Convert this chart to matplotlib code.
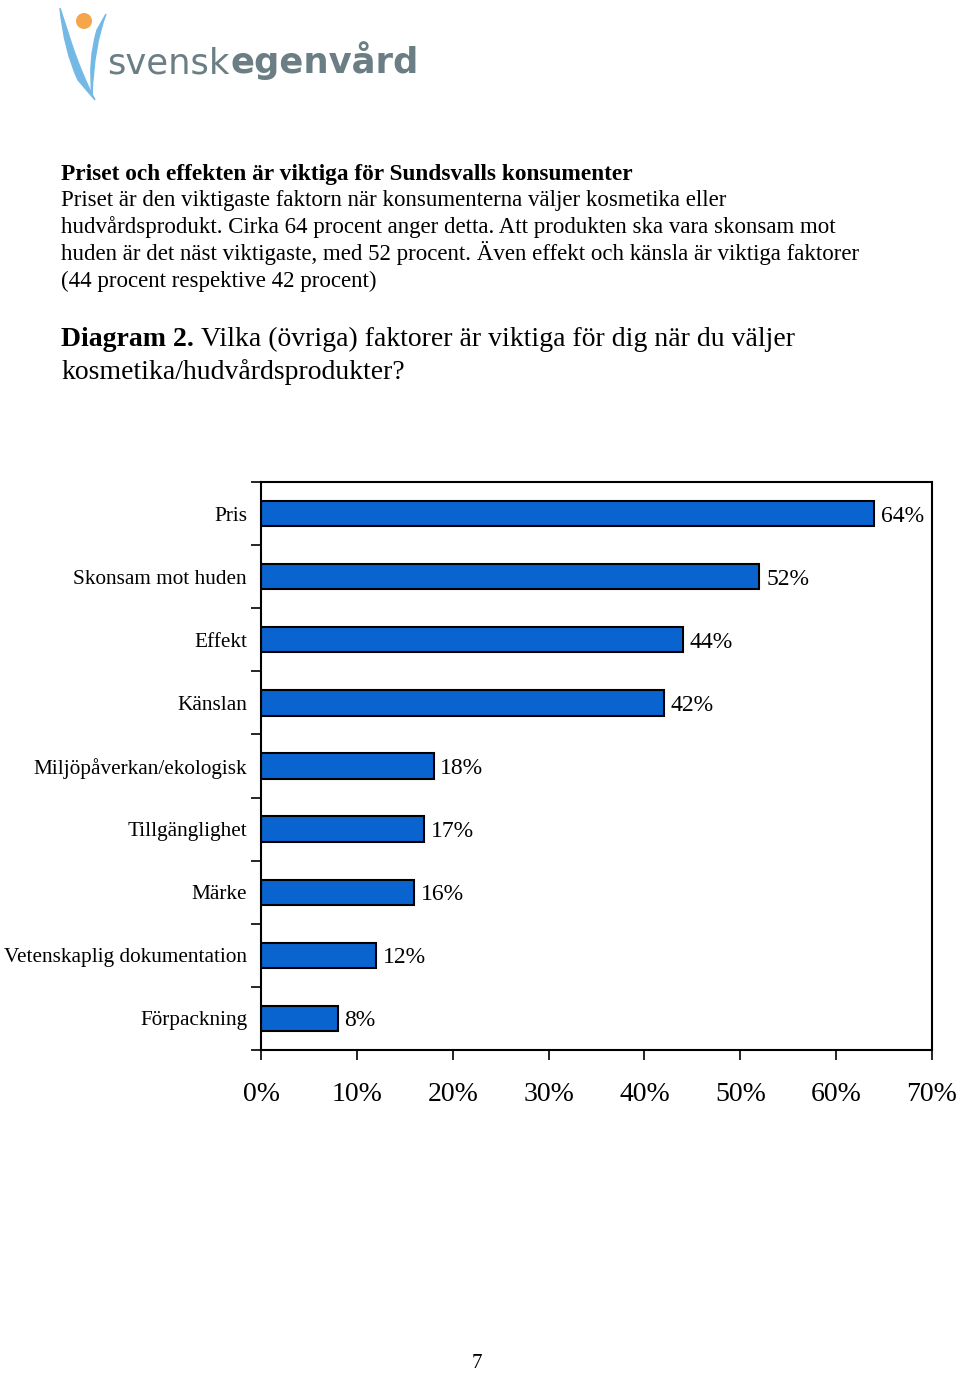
import numpy as np
import matplotlib.pyplot as plt
from matplotlib.patches import Circle, PathPatch
from matplotlib.path import Path

categories = ["Pris", "Skonsam mot huden", "Effekt", "Känslan",
              "Miljöpåverkan/ekologisk", "Tillgänglighet", "Märke",
              "Vetenskaplig dokumentation", "Förpackning"]
values = [64, 52, 44, 42, 18, 17, 16, 12, 8]
xticks = [0, 10, 20, 30, 40, 50, 60, 70]

heading = "Priset och effekten är viktiga för Sundsvalls konsumenter"
body = ["Priset är den viktigaste faktorn när konsumenterna väljer kosmetika eller",
        "hudvårdsprodukt. Cirka 64 procent anger detta. Att produkten ska vara skonsam mot",
        "huden är det näst viktigaste, med 52 procent. Även effekt och känsla är viktiga faktorer",
        "(44 procent respektive 42 procent)"]

W, H = 960, 1373
fig = plt.figure(figsize=(W / 100, H / 100), dpi=100)
serif = "Liberation Serif"

# logo
lax = fig.add_axes([0, 0, 1, 1])
lax.set_xlim(0, W)
lax.set_ylim(H, 0)
lax.axis("off")
blue = "#74b9e6"
left_arc = Path([(60, 8), (64, 50), (78, 80), (95, 100), (82, 75), (72, 45), (60, 8)],
                [Path.MOVETO, Path.CURVE3, Path.CURVE3, Path.LINETO, Path.CURVE3, Path.CURVE3, Path.CLOSEPOLY])
right_arc = Path([(106, 14), (94, 45), (92, 95), (88, 60), (97, 30), (106, 14)],
                 [Path.MOVETO, Path.CURVE3, Path.CURVE3, Path.CURVE3, Path.CURVE3, Path.CLOSEPOLY])
lax.add_patch(PathPatch(left_arc, fc=blue, ec=blue, lw=1))
lax.add_patch(PathPatch(right_arc, fc=blue, ec=blue, lw=1))
lax.add_patch(Circle((84, 21), 8, fc="#f5a54a", ec="none"))
logo_col = "#6a7e84"
t = lax.text(107, 73, "svensk", fontsize=25.5, color=logo_col, family="DejaVu Sans",
             va="baseline", ha="left")
fig.canvas.draw()
bb = t.get_window_extent()
lax.text(bb.x1 + 1, 73, "egenvård", fontsize=25.5, color=logo_col, family="DejaVu Sans",
         fontweight="bold", va="baseline", ha="left")

# text block
fig.text(61 / W, 1 - 180 / H, heading, fontsize=16.8, fontweight="bold", family=serif, va="baseline")
for i, line in enumerate(body):
    fig.text(61 / W, 1 - (206 + 27 * i) / H, line, fontsize=16.5, family=serif, va="baseline")
d = fig.text(61 / W, 1 - 346 / H, "Diagram 2.", fontsize=20, fontweight="bold", family=serif, va="baseline")
fig.canvas.draw()
dx = d.get_window_extent().x1
fig.text((dx + 7) / W, 1 - 346 / H, "Vilka (övriga) faktorer är viktiga för dig när du väljer",
         fontsize=20, family=serif, va="baseline")
fig.text(61 / W, 1 - 379 / H, "kosmetika/hudvårdsprodukter?", fontsize=20, family=serif, va="baseline")
fig.text(477 / W, 1 - 1363 / H, "7", fontsize=15, family=serif, ha="center", va="center")

# chart
ax = fig.add_axes([261 / W, 1 - 1050 / H, (932 - 261) / W, (1050 - 482) / H])
y = np.arange(len(categories))
ax.barh(y, values, height=0.4, color="#0a64cf", edgecolor="black", linewidth=1.5)
for yi, v in zip(y, values):
    ax.text(v + 0.7, yi + 0.04, f"{v}%", va="center", ha="left", fontsize=17, family=serif)
ax.set_xlim(0, 70)
ax.set_ylim(len(categories) - 0.5, -0.5)
ax.set_xticks(xticks)
ax.set_xticklabels([f"{x}%" for x in xticks], fontsize=20, family=serif)
ax.set_yticks(y)
ax.set_yticklabels(categories, fontsize=15.3, family=serif)
ax.set_yticks(np.arange(len(categories) + 1) - 0.5, minor=True)
ax.tick_params(axis="y", which="major", length=0, pad=10)
ax.tick_params(axis="y", which="minor", length=7, width=1.2, direction="out")
ax.tick_params(axis="x", length=7, width=1.2, direction="out", pad=16)
for s in ax.spines.values():
    s.set_linewidth(1.5)

fig.savefig("out.png", dpi=100)
